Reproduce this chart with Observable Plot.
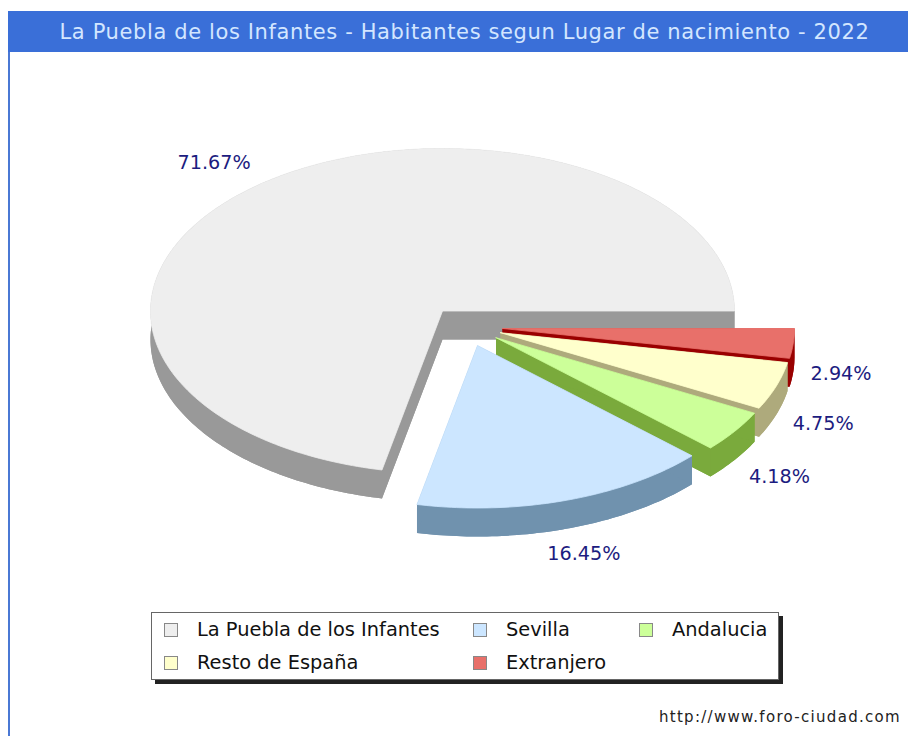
<!DOCTYPE html>
<html lang="es">
<head>
<meta charset="utf-8">
<script src="https://cdn.jsdelivr.net/npm/d3@7"></script>
<script src="https://cdn.jsdelivr.net/npm/@observablehq/plot@0.6"></script>
<style>
  html, body { margin: 0; padding: 0; background: #fff; }
  body { width: 908px; height: 736px; overflow: hidden; position: relative; font-family: "DejaVu Sans", sans-serif; }
  #rail { position: absolute; left: 8px; top: 52px; width: 2px; height: 684px; background: #4a78d4; }
  #title { margin: 11px 0 0 8px; height: 41px; line-height: 43px; width: 900px; background: #3a6fd8; color: #d3e6ff;
           font-size: 21px; letter-spacing: 0.62px; text-align: center; box-sizing: border-box; padding-left: 13px; white-space: nowrap; }
  #chart svg { display: block; }
  #legend { position: absolute; left: 151px; top: 612px; width: 626px; height: 66px; background: #fff; border: 1px solid #666;
            box-shadow: 4px 4px 0 #222; color: #111; font-size: 19.4px; }
  #legend .item { position: absolute; height: 22px; line-height: 22px; white-space: nowrap; }
  #legend .sw { position: absolute; left: -33px; top: 4px; width: 12px; height: 12px; border: 1px solid #888; }
  #foot { position: absolute; right: 7px; top: 708px; font-size: 15px; letter-spacing: 1.3px; color: #222; white-space: nowrap; }
</style>
</head>
<body>
<div id="rail"></div>
<div id="title"></div>
<div id="chart"></div>
<div id="legend"></div>
<div id="foot"></div>
<script>
const titleText = "La Puebla de los Infantes - Habitantes segun Lugar de nacimiento - 2022";
const footText = "http://www.foro-ciudad.com";
const categories = ["La Puebla de los Infantes", "Sevilla", "Andalucia", "Resto de España", "Extranjero"];
const shares = [71.67, 16.45, 4.18, 4.75, 2.94];
const topColors = ["#eeeeee", "#cce6ff", "#ccff99", "#ffffcc", "#e8706a"];
const sideColors = ["#999999", "#7092ae", "#7aaa3c", "#aeaa7c", "#990000"];

// Pie layout: drawn centre, radii and how far each slice is pulled out.
const cx = 442, cy = 310.5, rx = 292, ry = 162.5, depth = 28.5;
const pullX = [0, 35, 53.5, 58, 60];
const pullY = [0, 34.5, 26.7, 21.7, 17.5];
const labelRx = 331, labelRy = 190;
const labelNudgeX = [0, -3, 4, 1, 0];
const labelNudgeY = [-1, -1, 1, 0, -1];

document.getElementById("title").textContent = titleText;
document.getElementById("foot").textContent = footText;

const total = d3.sum(shares);
let running = 0;
const slices = shares.map((share, i) => {
  const a0 = running / total * 2 * Math.PI;
  running += share;
  const a1 = running / total * 2 * Math.PI;
  return {i, share, a0, a1, ox: cx + pullX[i], oy: cy + pullY[i]};
});

const rim = (s, a) => [s.ox + rx * Math.cos(a), s.oy - ry * Math.sin(a)];
function arcPoints(s) {
  const n = Math.ceil((s.a1 - s.a0) / (Math.PI / 180));
  return d3.range(n + 1).map(k => rim(s, s.a0 + (s.a1 - s.a0) * k / n));
}
const down = ([x, y]) => [x, y + depth];

function poly(points, color, strokeWidth = 0) {
  return Plot.line(points.concat([points[0]]), {
    x: d => d[0], y: d => d[1], fill: color, stroke: strokeWidth ? color : "none", strokeWidth, curve: "linear"
  });
}

function sliceMarks(s) {
  const arc = arcPoints(s);
  const apex = [s.ox, s.oy];
  const top = [apex, ...arc];
  const side = sideColors[s.i], face = topColors[s.i];
  const first = arc[0], last = arc[arc.length - 1];
  return [
    poly(top.map(down), side),
    poly([...arc, ...arc.slice().reverse().map(down)], side),
    poly([apex, first, down(first), down(apex)], side),
    poly([apex, last, down(last), down(apex)], side),
    poly(top, face, 0.8)
  ];
}

// Back-to-front: main slice, then the pulled slices from the rear forward.
const order = [0, 4, 3, 2, 1];

const labels = slices.map(s => {
  const mid = (s.a0 + s.a1) / 2;
  const c = Math.cos(mid), n = Math.sin(mid);
  return {
    text: s.share.toFixed(2) + "%",
    x: s.ox + labelRx * c + (c < 0 ? -20 : 9) + labelNudgeX[s.i],
    y: s.oy - labelRy * n + (n < 0 ? depth : 0) + labelNudgeY[s.i]
  };
});

const plot = Plot.plot({
  width: 908, height: 556,
  marginTop: 0, marginRight: 0, marginBottom: 0, marginLeft: 0,
  x: {axis: null, domain: [0, 908], range: [0, 908]},
  y: {axis: null, domain: [52, 608], range: [0, 556]},
  style: {background: "transparent", fontFamily: "DejaVu Sans, sans-serif"},
  marks: [
    ...order.flatMap(i => sliceMarks(slices[i])),
    Plot.text(labels, {x: "x", y: "y", text: "text", fill: "#1c1c80", fontSize: 19.2, textAnchor: "middle"})
  ]
});
document.getElementById("chart").appendChild(plot);

const legendLeft = [45, 354, 520];
const legend = document.getElementById("legend");
categories.forEach((name, i) => {
  const item = document.createElement("div");
  item.className = "item";
  item.style.left = legendLeft[i % 3] + "px";
  item.style.top = (i < 3 ? 6 : 39) + "px";
  const sw = document.createElement("span");
  sw.className = "sw";
  sw.style.background = topColors[i];
  item.appendChild(sw);
  item.appendChild(document.createTextNode(name));
  legend.appendChild(item);
});
</script>
</body>
</html>
